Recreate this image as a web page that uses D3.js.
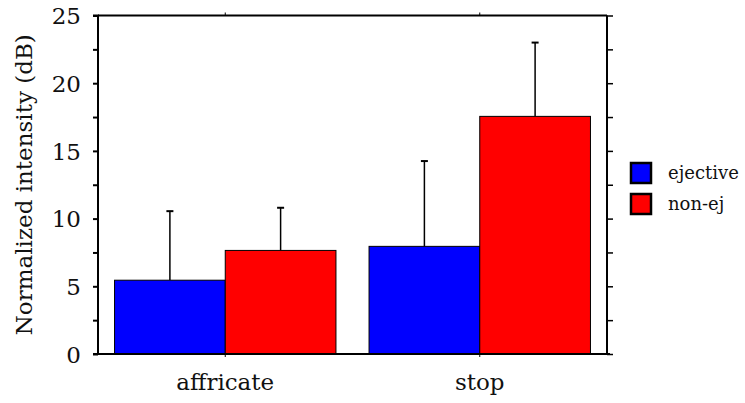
<!DOCTYPE html>
<html lang="en">
<head>
    <meta charset="UTF-8">
    <title>Normalized intensity</title>
    <script src="https://d3js.org/d3.v7.min.js"></script>
    <style>
        body { margin: 0; background: #fff; }
        text { font-family: "DejaVu Serif", serif; fill: #111; }
        .axis path, .axis line { stroke: #000; }
    </style>
</head>
<body>
    <svg width="745" height="403"></svg>
    <script>
        // data
        const categories = ["affricate", "stop"];
        const seriesNames = ["ejective", "non-ej"];
        const seriesColors = ["#0000ff", "#ff0000"];
        const ejectiveMean = [5.45, 7.95];
        const ejectiveErr = [10.55, 14.25];
        const nonEjMean = [7.65, 17.55];
        const nonEjErr = [10.8, 23.0];
        const yTicks = [0, 5, 10, 15, 20, 25];

        const means = [ejectiveMean, nonEjMean];
        const errs = [ejectiveErr, nonEjErr];

        const margin = { left: 98, right: 138, top: 15.5, bottom: 49 };
        const width = 745, height = 403;

        const svg = d3.select("svg");

        const x = d3.scaleBand()
            .domain(categories)
            .range([margin.left, width - margin.right])
            .paddingInner(0.13)
            .paddingOuter(0.065);

        const x1 = d3.scaleBand()
            .domain(seriesNames)
            .range([0, x.bandwidth()]);

        const y = d3.scaleLinear()
            .domain([0, 25])
            .range([height - margin.bottom, margin.top]);

        const minor = d3.range(0, 25.01, 2.5);

        const rows = [];
        categories.forEach((c, i) => {
            seriesNames.forEach((s, j) => {
                rows.push({ cat: c, ser: s, v: means[j][i], e: errs[j][i], col: seriesColors[j] });
            });
        });

        // error bars first, bars go on top
        const eb = svg.append("g").selectAll("g").data(rows).enter().append("g");
        eb.append("line")
            .attr("x1", d => x(d.cat) + x1(d.ser) + x1.bandwidth() / 2)
            .attr("x2", d => x(d.cat) + x1(d.ser) + x1.bandwidth() / 2)
            .attr("y1", d => y(d.v))
            .attr("y2", d => y(d.e))
            .attr("stroke", "#000").attr("stroke-width", 1.5);
        eb.append("line")
            .attr("x1", d => x(d.cat) + x1(d.ser) + x1.bandwidth() / 2 - 3.5)
            .attr("x2", d => x(d.cat) + x1(d.ser) + x1.bandwidth() / 2 + 3.5)
            .attr("y1", d => y(d.e))
            .attr("y2", d => y(d.e))
            .attr("stroke", "#000").attr("stroke-width", 2);

        svg.append("g").selectAll("rect").data(rows).enter().append("rect")
            .attr("x", d => x(d.cat) + x1(d.ser))
            .attr("width", x1.bandwidth())
            .attr("y", d => y(d.v))
            .attr("height", d => y(0) - y(d.v))
            .attr("fill", d => d.col)
            .attr("stroke", "#000")
            .attr("stroke-width", 1);

        // left axis
        const leftAxis = svg.append("g").attr("class", "axis")
            .attr("transform", `translate(${margin.left},0)`)
            .call(d3.axisLeft(y).tickValues(minor).tickSize(5).tickFormat(d => yTicks.includes(d) ? d : ""));
        leftAxis.select(".domain").attr("stroke-width", 2).attr("d", `M-5,${y(25)}H0V${y(0)}`);
        leftAxis.selectAll(".tick line").attr("stroke-width", 2);
        leftAxis.selectAll(".tick text").attr("x", -17).attr("dy", "0.36em")
            .style("font-size", "23px").style("font-family", "DejaVu Serif, serif");

        // right axis
        const rightAxis = svg.append("g").attr("class", "axis")
            .attr("transform", `translate(${width - margin.right},0)`)
            .call(d3.axisRight(y).tickValues(minor).tickSize(6).tickFormat(""));
        rightAxis.select(".domain").attr("stroke-width", 2).attr("d", `M0,${y(25)}V${y(0)}`);
        rightAxis.selectAll(".tick line").attr("stroke-width", 1.5);

        // bottom axis
        const bottomAxis = svg.append("g").attr("class", "axis")
            .attr("transform", `translate(0,${y(0)})`)
            .call(d3.axisBottom(x).tickSize(3).tickPadding(17));
        bottomAxis.select(".domain").attr("stroke-width", 2)
            .attr("d", `M${margin.left - 5},0H${width - margin.right + 3}`);
        bottomAxis.selectAll(".tick text").style("font-size", "23px").style("font-family", "DejaVu Serif, serif");

        // top axis
        const topAxis = svg.append("g").attr("class", "axis")
            .attr("transform", `translate(0,${y(25)})`)
            .call(d3.axisTop(x).tickSize(3).tickFormat(""));
        topAxis.select(".domain").attr("stroke-width", 2)
            .attr("d", `M${margin.left},0H${width - margin.right}`);

        // y label
        svg.append("text")
            .attr("transform", `translate(32,${(y(0) + y(25)) / 2}) rotate(-90)`)
            .attr("text-anchor", "middle")
            .style("font-size", "23px")
            .text("Normalized intensity (dB)");

        // legend
        const lg = svg.append("g").attr("transform", "translate(631,163)");
        const item = lg.selectAll("g").data(seriesNames).enter().append("g")
            .attr("transform", (d, i) => `translate(0,${i * 31})`);
        item.append("rect").attr("width", 20).attr("height", 20)
            .attr("fill", (d, i) => seriesColors[i])
            .attr("stroke", "#000").attr("stroke-width", 2.5);
        item.append("text").attr("x", 37).attr("y", 10).attr("dy", "0.35em")
            .style("font-size", "18px")
            .text(d => d);
    </script>
</body>
</html>
